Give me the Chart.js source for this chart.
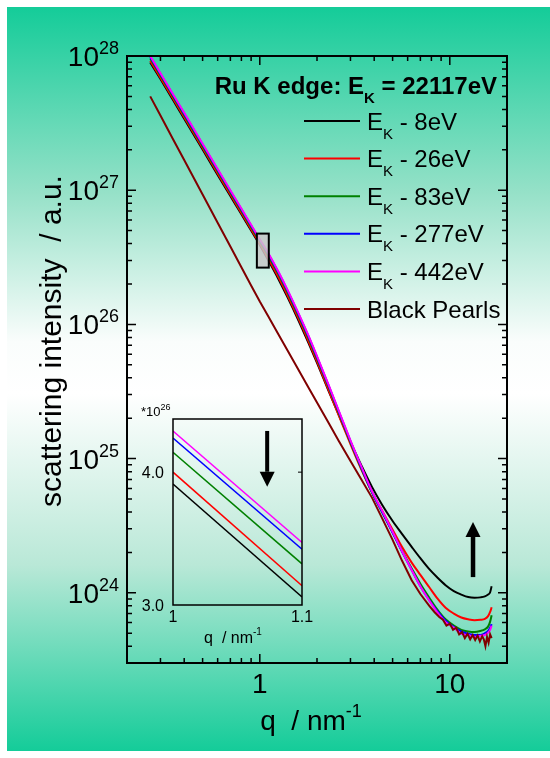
<!DOCTYPE html>
<html>
<head>
<meta charset="utf-8">
<script src="https://cdn.jsdelivr.net/npm/chart.js@4.4.0/dist/chart.umd.min.js"></script>
<style>
  html, body { margin: 0; padding: 0; background: #fff; }
  #wrap { position: relative; width: 550px; height: 758px; overflow: hidden; }
  #bg {
    position: absolute; left: 7px; top: 7px; width: 543px; height: 744px;
    background: linear-gradient(to bottom, #14cc99 0%, #96e1c8 25%, #fafdfc 45%, #ffffff 52%, #b9e8d7 75%, #14cc99 100%);
  }
  canvas { position: absolute; left: 0; top: 0; }
</style>
</head>
<body>
<div id="wrap">
  <div id="bg"></div>
  <canvas id="mainChart" width="550" height="758"></canvas>
  <canvas id="insetChart" width="550" height="758"></canvas>
</div>
<script>
// q grid (nm^-1) shared by the five energy scans
const q = [0.265, 0.3, 0.35, 0.4, 0.5, 0.6, 0.7, 0.8, 0.9, 1.0, 1.1, 1.25, 1.4, 1.6, 1.8, 2.0, 2.3, 2.6, 3.0, 3.4,
           3.9, 4.4, 5.0, 5.6, 6.3, 7.0, 7.8, 8.6, 9.5, 10.5, 11.5, 12.5, 13.5, 14.5, 15.3, 15.9, 16.3, 16.6];

const I_8eV = [8.96e27, 6.74e27, 4.68e27, 3.41e27, 2.01e27, 1.30e27, 9.05e26, 6.61e26, 5.0e26, 3.91e26,
               3.06e26, 2.19e26, 1.59e26, 1.065e26, 7.32e25, 5.17e25, 3.2e25, 2.13e25, 1.33e25, 9.1e24,
               6.13e24, 4.54e24, 3.43e24, 2.75e24, 2.2e24, 1.81e24, 1.50e24, 1.30e24, 1.14e24, 1.03e24,
               9.7e23, 9.3e23, 9.2e23, 9.25e23, 9.4e23, 9.7e23, 1.01e24, 1.12e24];
const I_26eV = [9.2e27, 6.9e27, 4.8e27, 3.5e27, 2.06e27, 1.335e27, 9.28e26, 6.77e26, 5.12e26, 4.0e26,
                3.145e26, 2.26e26, 1.64e26, 1.10e26, 7.55e25, 5.3e25, 3.25e25, 2.11e25, 1.28e25, 8.45e24,
                5.6e24, 4.1e24, 2.95e24, 2.2e24, 1.68e24, 1.36e24, 1.1e24, 9.1e23, 7.75e23, 7.0e23,
                6.55e23, 6.35e23, 6.25e23, 6.3e23, 6.4e23, 6.7e23, 7.2e23, 7.8e23];
const I_83eV = [9.6e27, 7.15e27, 4.97e27, 3.62e27, 2.13e27, 1.385e27, 9.62e26, 7.02e26, 5.31e26, 4.15e26,
                3.31e26, 2.38e26, 1.73e26, 1.155e26, 7.95e25, 5.56e25, 3.42e25, 2.2e25, 1.32e25, 8.65e24,
                5.55e24, 4.0e24, 2.82e24, 2.06e24, 1.52e24, 1.17e24, 9.2e23, 7.5e23, 6.35e23, 5.7e23,
                5.3e23, 5.15e23, 5.1e23, 5.2e23, 5.35e23, 5.6e23, 6.1e23, 6.8e23];
const I_277eV = [9.85e27, 7.35e27, 5.1e27, 3.72e27, 2.19e27, 1.42e27, 9.87e26, 7.2e26, 5.45e26, 4.256e26,
                 3.42e26, 2.455e26, 1.785e26, 1.19e26, 8.2e25, 5.73e25, 3.51e25, 2.26e25, 1.35e25, 8.8e24,
                 5.62e24, 4.02e24, 2.8e24, 2.03e24, 1.48e24, 1.12e24, 8.8e23, 7.3e23, 6.2e23, 5.55e23,
                 5.15e23, 4.95e23, 4.85e23, 4.85e23, 5.0e23, 5.2e23, 5.5e23, 5.85e23];
const I_442eV = [1.0e28, 7.45e27, 5.17e27, 3.77e27, 2.22e27, 1.44e27, 1.0e27, 7.3e26, 5.52e26, 4.31e26,
                 3.47e26, 2.49e26, 1.81e26, 1.21e26, 8.32e25, 5.81e25, 3.56e25, 2.29e25, 1.37e25, 8.93e24,
                 5.68e24, 4.1e24, 2.85e24, 2.05e24, 1.48e24, 1.12e24, 8.75e23, 7.15e23, 6.05e23, 5.5e23,
                 4.95e23, 4.85e23, 4.7e23, 4.78e23, 4.85e23, 5.05e23, 5.3e23, 5.7e23];

// Black Pearls reference, sampled finer in the noisy tail
const qBP = [0.265, 0.3, 0.35, 0.4, 0.5, 0.6, 0.7, 0.8, 0.9, 1.0, 1.1, 1.25, 1.4, 1.6, 1.8, 2.0, 2.3, 2.6, 3.0, 3.4,
             3.9, 4.4, 5.0, 5.6, 6.3, 7.0, 7.8, 8.3, 8.8, 9.2, 9.6, 10.0, 10.4, 10.8, 11.2, 11.6, 12.0, 12.4, 12.8, 13.2,
             13.6, 14.0, 14.4, 14.8, 15.1, 15.4, 15.7, 16.0, 16.3, 16.6];
const I_BP = [5.0e27, 3.6e27, 2.39e27, 1.68e27, 9.3e26, 5.73e26, 3.81e26, 2.67e26, 1.95e26, 1.48e26,
              1.17e26, 8.5e25, 6.4e25, 4.57e25, 3.4e25, 2.62e25, 1.85e25, 1.36e25, 9.6e24, 7.1e24,
              5.1e24, 3.6e24, 2.48e24, 1.74e24, 1.24e24, 9.8e23, 8.0e23, 7.2e23, 6.6e23, 6.3e23,
              5.7e23, 5.9e23, 5.3e23, 5.5e23, 4.9e23, 5.1e23, 4.6e23, 4.95e23, 4.5e23, 4.85e23,
              4.45e23, 4.8e23, 4.35e23, 4.75e23, 4.5e23, 4.0e23, 4.7e23, 4.25e23, 4.9e23, 4.6e23];

const energyOffsets = ['8', '26', '83', '277', '442'];
const seriesColors = ['#000000', '#ff0000', '#008000', '#0000ff', '#ff00ff'];
const bpLabel = 'Black Pearls';
const bpColor = '#800000';

// inset: zoom of 1 <= q <= 1.1, intensity in units of 1e26
const qInset = [1.0, 1.1];
const inset8 = [3.91, 3.06];
const inset26 = [4.00, 3.145];
const inset83 = [4.15, 3.31];
const inset277 = [4.256, 3.42];
const inset442 = [4.31, 3.47];

// axis ticks
const yMajor = [1e24, 1e25, 1e26, 1e27, 1e28];
const yExp = ['24', '25', '26', '27', '28'];
const xMajor = [1, 10];
const xLabels = ['1', '10'];
const insetYTicks = [3.0, 4.0];
const insetYLabels = ['3.0', '4.0'];
const insetXTicks = [1.0, 1.1];
const insetXLabels = ['1', '1.1'];

// marked zoom box and the two arrows, in data units
const boxQ = [0.965, 1.115];
const boxI = [2.65e26, 4.75e26];
const upArrow = { q: 13.25, from: 1.31e24, to: 3.37e24 };
const downArrow = { q: 1.073, from: 4.31, to: 3.89 };

const FONT = '"Liberation Sans", Arial, sans-serif';

function toPoints(xs, ys) {
    return xs.map((v, i) => ({ x: v, y: ys[i] }));
}

// draws a run of [text, size, weight, dy] pieces
function richText(ctx, parts, x, y, align) {
    let w = 0;
    parts.forEach(p => {
        ctx.font = `${p[2] || 'normal'} ${p[1]}px ${FONT}`;
        w += ctx.measureText(p[0]).width;
    });
    let cx = align === 'right' ? x - w : align === 'center' ? x - w / 2 : x;
    ctx.textAlign = 'left';
    ctx.textBaseline = 'alphabetic';
    parts.forEach(p => {
        ctx.font = `${p[2] || 'normal'} ${p[1]}px ${FONT}`;
        ctx.fillText(p[0], cx, y + (p[3] || 0));
        cx += ctx.measureText(p[0]).width;
    });
}

function arrow(ctx, x, yTail, yTip, shaft, headW, headL) {
    const dir = yTip < yTail ? -1 : 1;
    ctx.fillStyle = '#000';
    ctx.fillRect(x - shaft / 2, Math.min(yTail, yTip - dir * headL), shaft, Math.abs(yTip - dir * headL - yTail));
    ctx.beginPath();
    ctx.moveTo(x, yTip);
    ctx.lineTo(x - headW / 2, yTip - dir * headL);
    ctx.lineTo(x + headW / 2, yTip - dir * headL);
    ctx.closePath();
    ctx.fill();
}

const mainDecor = {
    id: 'mainDecor',
    afterDatasetsDraw(chart) {
        const { ctx, chartArea: a, scales: { x, y } } = chart;
        ctx.save();

        // zoom box
        const bx0 = x.getPixelForValue(boxQ[0]), bx1 = x.getPixelForValue(boxQ[1]);
        const by0 = y.getPixelForValue(boxI[1]), by1 = y.getPixelForValue(boxI[0]);
        ctx.fillStyle = 'rgba(200,200,200,0.85)';
        ctx.fillRect(bx0, by0, bx1 - bx0, by1 - by0);
        ctx.strokeStyle = '#000';
        ctx.lineWidth = 2;
        ctx.strokeRect(bx0, by0, bx1 - bx0, by1 - by0);

        // frame
        ctx.lineWidth = 2;
        ctx.strokeRect(a.left, a.top, a.right - a.left, a.bottom - a.top);

        // inward ticks on all four sides
        ctx.lineWidth = 1.5;
        const hTick = (px, len) => {
            ctx.beginPath();
            ctx.moveTo(a.left, px); ctx.lineTo(a.left + len, px);
            ctx.moveTo(a.right, px); ctx.lineTo(a.right - len, px);
            ctx.stroke();
        };
        const vTick = (px, len) => {
            ctx.beginPath();
            ctx.moveTo(px, a.bottom); ctx.lineTo(px, a.bottom - len);
            ctx.moveTo(px, a.top); ctx.lineTo(px, a.top + len);
            ctx.stroke();
        };
        [1e23, 1e24, 1e25, 1e26, 1e27].forEach(d => {
            for (let m = 2; m <= 9; m++) {
                const v = d * m;
                if (v > y.min && v < y.max) hTick(y.getPixelForValue(v), 5);
            }
        });
        yMajor.forEach(v => hTick(y.getPixelForValue(v), 9));
        [0.1, 1, 10].forEach(d => {
            for (let m = 2; m <= 9; m++) {
                const v = d * m;
                if (v > x.min && v < x.max) vTick(x.getPixelForValue(v), 5);
            }
        });
        xMajor.forEach(v => vTick(x.getPixelForValue(v), 9));

        // tick labels
        ctx.fillStyle = '#000';
        yMajor.forEach((v, i) => {
            const py = y.getPixelForValue(v);
            richText(ctx, [['10', 28], [yExp[i], 18, 'normal', -12]], a.left - 8, py + 10, 'right');
        });
        xMajor.forEach((v, i) => {
            richText(ctx, [[xLabels[i], 28]], x.getPixelForValue(v), 693, 'center');
        });

        // axis titles
        richText(ctx, [['q  / nm', 28], ['-1', 18, 'normal', -13]], 311, 730, 'center');
        ctx.save();
        ctx.translate(61, 341);
        ctx.rotate(-Math.PI / 2);
        richText(ctx, [['scattering intensity  / a.u.', 30]], 0, 0, 'center');
        ctx.restore();

        // legend
        richText(ctx, [['Ru K edge: E', 24, 'bold'], ['K', 15, 'bold', 9], [' = 22117eV', 24, 'bold']], 497, 94, 'right');
        const rows = chart.data.datasets.slice().sort((p, r) => p.legendRow - r.legendRow);
        rows.forEach((ds, i) => {
            const cy = 121 + i * 37.6;
            ctx.strokeStyle = ds.borderColor;
            ctx.lineWidth = 2;
            ctx.beginPath();
            ctx.moveTo(304, cy); ctx.lineTo(360, cy);
            ctx.stroke();
            ctx.fillStyle = '#000';
            if (ds.offset) {
                richText(ctx, [['E', 24], ['K', 15, 'normal', 9], [' - ' + ds.offset + 'eV', 24]], 367, cy + 8.5, 'left');
            } else {
                richText(ctx, [[ds.label, 24]], 367, cy + 8.5, 'left');
            }
        });

        // arrow toward higher background
        arrow(ctx, x.getPixelForValue(upArrow.q), y.getPixelForValue(upArrow.from), y.getPixelForValue(upArrow.to), 4.5, 15, 15);
        ctx.restore();
    }
};

const mainSets = energyOffsets.map((e, i) => ({
    label: 'E_K - ' + e + 'eV',
    offset: e,
    legendRow: i,
    data: toPoints(q, [I_8eV, I_26eV, I_83eV, I_277eV, I_442eV][i]),
    borderColor: seriesColors[i],
    cubicInterpolationMode: 'monotone',
    order: 5 - i
}));
mainSets.push({
    label: bpLabel,
    legendRow: 5,
    data: toPoints(qBP, I_BP),
    borderColor: bpColor,
    order: 0
});

new Chart(document.getElementById('mainChart'), {
    type: 'line',
    data: { datasets: mainSets },
    options: {
        responsive: false,
        animation: false,
        events: [],
        devicePixelRatio: 1,
        layout: { padding: { left: 127, top: 56, right: 43, bottom: 95 } },
        scales: {
            x: { type: 'logarithmic', min: 0.2, max: 20, display: false },
            y: { type: 'logarithmic', min: 3e23, max: 1e28, display: false }
        },
        elements: {
            point: { radius: 0 },
            line: { borderWidth: 2, tension: 0, fill: false }
        },
        plugins: { legend: { display: false }, tooltip: { enabled: false } }
    },
    plugins: [mainDecor]
});

const insetDecor = {
    id: 'insetDecor',
    afterDatasetsDraw(chart) {
        const { ctx, chartArea: a, scales: { x, y } } = chart;
        ctx.save();
        ctx.strokeStyle = '#000';
        ctx.lineWidth = 1.5;
        ctx.strokeRect(a.left, a.top, a.right - a.left, a.bottom - a.top);
        ctx.lineWidth = 1;
        const t = y.getPixelForValue(4.0);
        ctx.beginPath();
        ctx.moveTo(a.right, t); ctx.lineTo(a.right - 4, t);
        ctx.stroke();

        ctx.fillStyle = '#000';
        insetYTicks.forEach((v, i) => {
            richText(ctx, [[insetYLabels[i], 16]], a.left - 9, y.getPixelForValue(v) + 6, 'right');
        });
        insetXTicks.forEach((v, i) => {
            richText(ctx, [[insetXLabels[i], 16]], x.getPixelForValue(v), 622, 'center');
        });
        richText(ctx, [['*10', 13], ['26', 9, 'normal', -6]], 141, 416, 'left');
        richText(ctx, [['q  / nm', 16], ['-1', 10, 'normal', -8]], 233, 643, 'center');

        arrow(ctx, x.getPixelForValue(downArrow.q), y.getPixelForValue(downArrow.from), y.getPixelForValue(downArrow.to), 4, 15, 15);
        ctx.restore();
    }
};

new Chart(document.getElementById('insetChart'), {
    type: 'line',
    data: {
        datasets: [inset8, inset26, inset83, inset277, inset442].map((vals, i) => ({
            label: energyOffsets[i],
            data: toPoints(qInset, vals),
            borderColor: seriesColors[i]
        }))
    },
    options: {
        responsive: false,
        animation: false,
        events: [],
        devicePixelRatio: 1,
        layout: { padding: { left: 173, top: 419, right: 248, bottom: 153 } },
        scales: {
            x: { type: 'linear', min: 1.0, max: 1.1, display: false },
            y: { type: 'linear', min: 3.0, max: 4.4, display: false }
        },
        elements: {
            point: { radius: 0 },
            line: { borderWidth: 1.5, tension: 0, fill: false }
        },
        plugins: { legend: { display: false }, tooltip: { enabled: false } }
    },
    plugins: [insetDecor]
});
</script>
</body>
</html>
